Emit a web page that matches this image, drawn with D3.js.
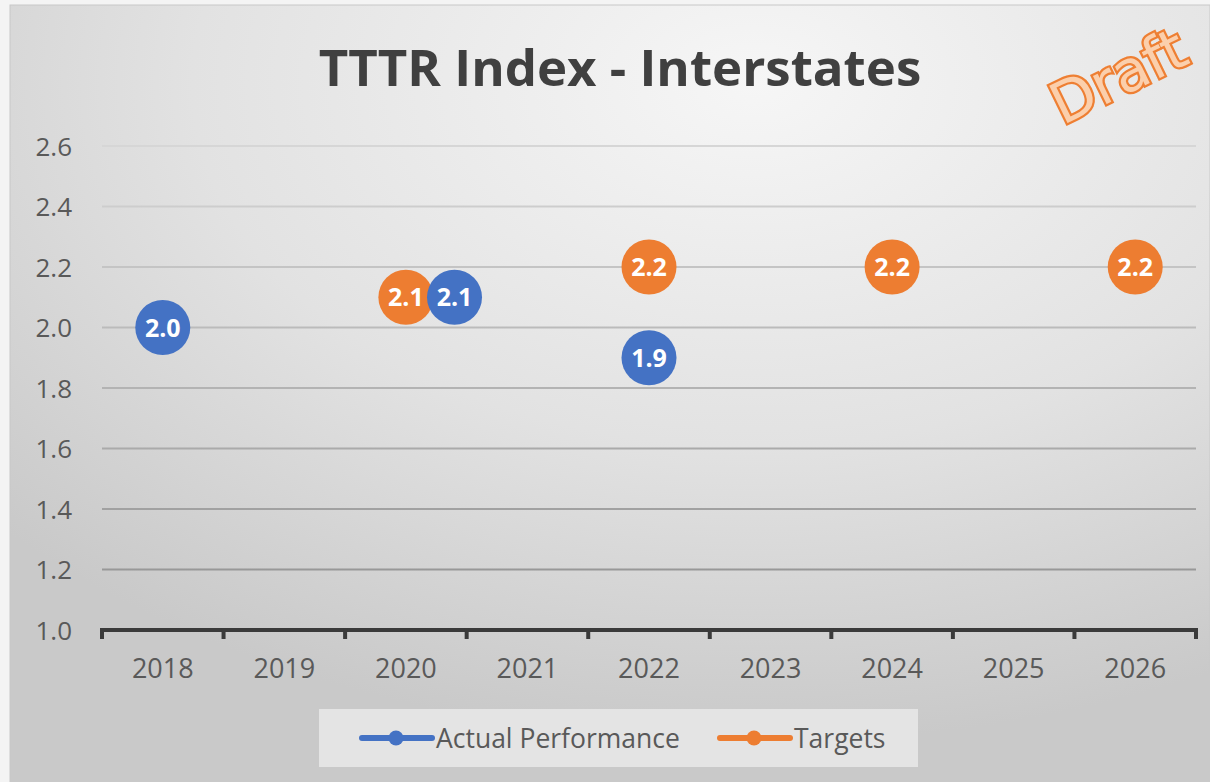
<!DOCTYPE html>
<meta charset="utf-8">
<title>TTTR Index - Interstates</title>
<style>
html, body {
  margin: 0;
  padding: 0;
  background: #f4f4f4;
}
svg {
  display: block;
  font-family: "Open Sans", "Liberation Sans", sans-serif;
}
</style>
<body>
<script src="https://cdnjs.cloudflare.com/ajax/libs/d3/7.8.5/d3.min.js"></script>
<script>

var years = [2018, 2019, 2020, 2021, 2022, 2023, 2024, 2025, 2026];
var yTicks = [1.0, 1.2, 1.4, 1.6, 1.8, 2.0, 2.2, 2.4, 2.6];

// actual dot for 2020 sits a little right of the category in the original
var actualYears = [2018, 2020.4, 2022];
var actualValues = [2.0, 2.1, 1.9];

var targetYears = [2020, 2022, 2024, 2026];
var targetValues = [2.1, 2.2, 2.2, 2.2];

var seriesNames = ["Actual Performance", "Targets"];
var seriesColors = ["#4472c4", "#ed7d31"];

var width = 1210,
    height = 782;

var svg = d3.select("body").append("svg")
    .attr("width", width)
    .attr("height", height);

var defs = svg.append("defs");
var grad = defs.append("radialGradient")
    .attr("id", "bg")
    .attr("cx", "0.62").attr("cy", "0.1")
    .attr("r", "0.85");
grad.append("stop").attr("offset", "0").attr("stop-color", "#f6f6f6");
grad.append("stop").attr("offset", "0.55").attr("stop-color", "#e2e2e2");
grad.append("stop").attr("offset", "1").attr("stop-color", "#c9c9c9");

svg.append("rect")
    .attr("x", 10).attr("y", 5)
    .attr("width", width - 10).attr("height", height - 5)
    .attr("fill", "url(#bg)")
    .attr("stroke", "#c8c8c8");

var x = d3.scaleLinear()
    .domain([2017.5, 2026.5])
    .range([102, 1196]);

var y = d3.scaleLinear()
    .domain([1.0, 2.6])
    .range([630, 146]);

// gridlines, lighter toward the top like the original
var gridColor = d3.scaleLinear().domain([1.0, 2.6]).range(["#8f8f8f", "#d6d6d6"]);
svg.append("g").selectAll("line")
    .data(yTicks.filter(function(d) { return d > 1.0; }))
  .enter().append("line")
    .attr("x1", x.range()[0]).attr("x2", x.range()[1])
    .attr("y1", function(d) { return y(d); })
    .attr("y2", function(d) { return y(d); })
    .attr("stroke", function(d) { return gridColor(d); })
    .attr("stroke-width", 2);

// y axis labels
var yAxis = svg.append("g")
    .attr("transform", "translate(72,0)")
    .call(d3.axisLeft(y).tickValues(yTicks).tickFormat(d3.format(".1f")).tickSize(0).tickPadding(0));
yAxis.select(".domain").remove();
yAxis.attr("font-family", null);
yAxis.selectAll("text")
    .attr("font-size", 26)
    .attr("fill", "#595959")
    .attr("dy", "0.36em");

// x axis with category boundary ticks
var edges = d3.range(2017.5, 2027, 1);
var xAxis = svg.append("g")
    .attr("transform", "translate(0,630)");
xAxis.append("line")
    .attr("x1", x.range()[0]).attr("x2", x.range()[1])
    .attr("stroke", "#3a3a3a").attr("stroke-width", 4);
xAxis.selectAll(".edge")
    .data(edges)
  .enter().append("line")
    .attr("class", "edge")
    .attr("x1", function(d) { return x(d); })
    .attr("x2", function(d) { return x(d); })
    .attr("y1", -2).attr("y2", 9)
    .attr("stroke", "#3a3a3a").attr("stroke-width", 4);
xAxis.selectAll(".lbl")
    .data(years)
  .enter().append("text")
    .attr("class", "lbl")
    .attr("x", function(d) { return x(d); })
    .attr("y", 48)
    .attr("text-anchor", "middle")
    .attr("font-size", 27)
    .attr("fill", "#595959")
    .text(function(d) { return d; });

// title
svg.append("text")
    .attr("x", 620).attr("y", 86)
    .attr("text-anchor", "middle")
    .attr("font-size", 51)
    .attr("font-weight", "bold")
    .attr("fill", "#404040")
    .text("TTTR Index - Interstates");

// Draft stamp
svg.append("text")
    .attr("transform", "translate(1127,94) rotate(-26)")
    .attr("text-anchor", "middle")
    .attr("font-family", "DejaVu Sans, sans-serif")
    .attr("font-size", 57)
    .attr("fill", "#fbcfac")
    .attr("stroke", "#ee7f33")
    .attr("stroke-width", 4.5)
    .attr("paint-order", "stroke")
    .text("Draft");

// points
function drawSeries(xs, vs, color) {
  var g = svg.append("g");
  var pts = xs.map(function(d, i) { return [d, vs[i]]; });
  g.selectAll("circle")
      .data(pts)
    .enter().append("circle")
      .attr("cx", function(d) { return x(d[0]); })
      .attr("cy", function(d) { return y(d[1]); })
      .attr("r", 27.5)
      .attr("fill", color);
  g.selectAll("text")
      .data(pts)
    .enter().append("text")
      .attr("x", function(d) { return x(d[0]); })
      .attr("y", function(d) { return y(d[1]); })
      .attr("dy", "0.36em")
      .attr("text-anchor", "middle")
      .attr("font-size", 25)
      .attr("font-weight", "bold")
      .attr("fill", "#fff")
      .text(function(d) { return d3.format(".1f")(d[1]); });
}
drawSeries(targetYears, targetValues, seriesColors[1]);
drawSeries(actualYears, actualValues, seriesColors[0]);

// legend
var legend = svg.append("g");
legend.append("rect")
    .attr("x", 319).attr("y", 709)
    .attr("width", 599).attr("height", 58)
    .attr("fill", "#e4e4e4");
var legendX = [362, 720];
seriesNames.forEach(function(name, i) {
  var lx = legendX[i];
  legend.append("line")
      .attr("x1", lx).attr("x2", lx + 70)
      .attr("y1", 738).attr("y2", 738)
      .attr("stroke", seriesColors[i])
      .attr("stroke-width", 6)
      .attr("stroke-linecap", "round");
  legend.append("circle")
      .attr("cx", lx + 34).attr("cy", 738)
      .attr("r", 7.5)
      .attr("fill", seriesColors[i]);
  legend.append("text")
      .attr("x", lx + 74).attr("y", 738)
      .attr("dy", "0.36em")
      .attr("font-size", 26.5)
      .attr("fill", "#595959")
      .text(name);
});

</script>
</body>
</html>
